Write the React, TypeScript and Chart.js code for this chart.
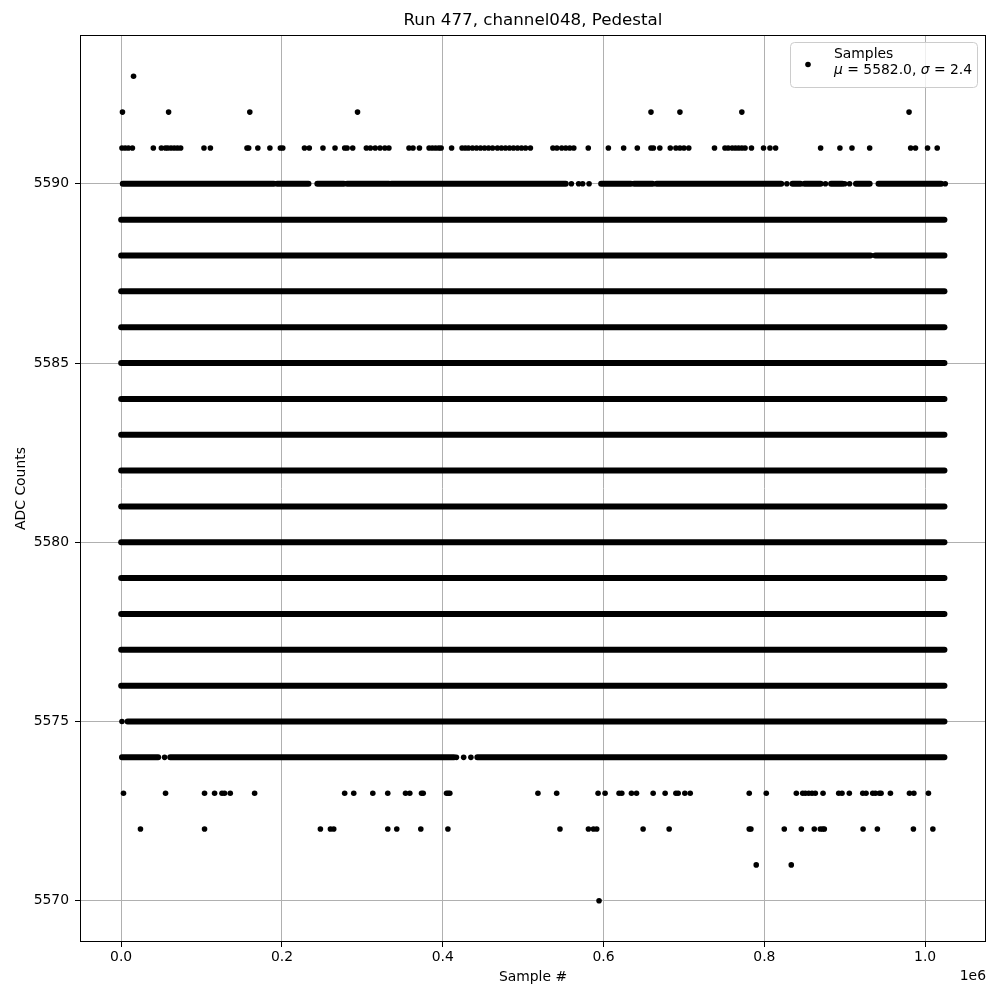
import { useEffect, useRef } from "react";
import { Chart, registerables } from "chart.js";

Chart.register(...registerables);

// ---------- text ----------
const chartTitle = "Run 477, channel048, Pedestal";
const xAxisLabel = "Sample #";
const yAxisLabel = "ADC Counts";
const xOffsetLabel = "1e6";
const legendName = "Samples";
const meanValue = "5582.0";
const sigmaValue = "2.4";

// ---------- axes ----------
const xTickValues = [0, 200000, 400000, 600000, 800000, 1000000];
const yTickValues = [5570, 5575, 5580, 5585, 5590];
const xRange = [-51200, 1075700];
const yRange = [5568.85, 5594.15];

// ---------- data ----------
// ADC levels whose samples fill the whole run
const fullRowLevels = [5576, 5577, 5578, 5579, 5580, 5581, 5582, 5583, 5584, 5585, 5586, 5587, 5589];
const fullRowSpan = [0, 1024000];

// partially filled levels: [first sample, last sample] of dense runs
const row5590Segments = [
  [2000, 190000], [194000, 233000], [244000, 277000], [281000, 333000], [336000, 553000],
  [597000, 634000], [638000, 661000], [666000, 821000], [835000, 845000], [850000, 870000],
  [883000, 897000], [914000, 931000], [942000, 1020000],
];
const row5588Segments = [[0, 932000], [938000, 1024000]];
const row5575Segments = [[8000, 1024000]];
const row5574Segments = [[1000, 46000], [61000, 414000], [443000, 1024000]];

// isolated samples per level (sample #)
const row5593Points = [15400];
const row5592Points = [1600, 59000, 160000, 294000, 659000, 695000, 772000, 980000];
const row5591Points = [
  1000, 5000, 9000, 14000, 40000, 50000, 55000, 58000, 62000, 66000, 70000, 74000, 103000, 111000,
  156500, 158600, 170000, 185000, 198000, 201000, 228000, 234000, 251000, 266000, 278000, 281000,
  288000, 305000, 310000, 316000, 322000, 328000, 333000, 358000, 363000, 371000, 383000, 387000,
  391000, 395000, 398000, 411000, 424000, 428000, 432000, 437000, 442000, 447000, 452000, 457000,
  462000, 468000, 473000, 478000, 483000, 488000, 493000, 498000, 503000, 509000, 537000, 542000,
  548000, 553000, 558000, 563000, 581000, 606000, 625000, 642000, 659000, 662000, 670000, 683000,
  690000, 695000, 700000, 706000, 738000, 751000, 755000, 760000, 764000, 768000, 772000, 776000,
  784000, 799000, 807000, 814000, 870000, 894000, 909000, 931000, 982000, 988000, 1003000, 1015000,
];
const row5590Points = [560000, 569000, 574000, 582000, 828000, 876000, 900000, 906000, 1025000];
const row5575Points = [1000];
const row5574Points = [54000, 417000, 426000, 435000];
const row5573Points = [
  2900, 55200, 103700, 116200, 125400, 128600, 135700, 166000, 278000, 289300, 313000, 331600,
  353700, 359000, 373600, 375700, 404700, 406800, 408800, 518400, 541700, 593200, 601900, 619300,
  622700, 634700, 641000, 661700, 676600, 690000, 692800, 701100, 707800, 781200, 802400, 839800,
  847700, 851000, 855200, 859300, 863400, 873000, 892500, 896600, 905700, 922400, 926500, 934800,
  938100, 943100, 945200, 956800, 980500, 986000, 1004100,
];
const row5572Points = [
  24000, 103700, 247800, 260300, 264400, 331600, 342800, 372700, 406400, 545800, 581200, 587400,
  591500, 649200, 681600, 781200, 783300, 824800, 846000, 862100, 869600, 872600, 874600, 922800,
  940600, 985400, 1009600,
];
const row5571Points = [789900, 833500];
const row5570Points = [594400];

const FONT = "'DejaVu Sans', 'Liberation Sans', sans-serif";

export default function App() {
  const canvasRef = useRef<HTMLCanvasElement | null>(null);

  useEffect(() => {
    const canvas = canvasRef.current;
    if (!canvas) return;

    const segmentRows: [number, number[][]][] = [
      ...fullRowLevels.map((lvl) => [lvl, [fullRowSpan]] as [number, number[][]]),
      [5590, row5590Segments],
      [5588, row5588Segments],
      [5575, row5575Segments],
      [5574, row5574Segments],
    ];
    const pointRows: [number, number[]][] = [
      [5593, row5593Points],
      [5592, row5592Points],
      [5591, row5591Points],
      [5590, row5590Points],
      [5575, row5575Points],
      [5574, row5574Points],
      [5573, row5573Points],
      [5572, row5572Points],
      [5571, row5571Points],
      [5570, row5570Points],
    ];

    const lineDatasets = segmentRows.map(([lvl, segs]) => {
      const data: { x: number; y: number | null }[] = [];
      segs.forEach(([a, b], i) => {
        if (i > 0) data.push({ x: a, y: null });
        data.push({ x: a, y: lvl });
        data.push({ x: b, y: lvl });
      });
      return {
        type: "scatter" as const,
        data,
        showLine: true,
        spanGaps: false,
        borderColor: "#000",
        borderWidth: 6,
        borderCapStyle: "round" as const,
        pointRadius: 0,
        pointHoverRadius: 0,
      };
    });

    const pointData: { x: number; y: number }[] = [];
    pointRows.forEach(([lvl, xs]) => xs.forEach((x) => pointData.push({ x, y: lvl })));

    const decor = {
      id: "decor",
      afterDraw(chart: any) {
        const { ctx, chartArea: a } = chart;
        ctx.save();
        // frame
        ctx.strokeStyle = "#000";
        ctx.lineWidth = 1;
        ctx.strokeRect(a.left + 0.5, a.top + 0.5, a.right - a.left - 1, a.bottom - a.top - 1);

        // title
        ctx.fillStyle = "#000";
        ctx.font = `16.7px ${FONT}`;
        ctx.textAlign = "center";
        ctx.textBaseline = "middle";
        ctx.fillText(chartTitle, (a.left + a.right) / 2, 21);

        // offset text
        ctx.font = `13.9px ${FONT}`;
        ctx.textAlign = "right";
        ctx.fillText(xOffsetLabel, a.right, 976.5);

        // legend
        const bx = 790.5, by = 42.5, bw = 187, bh = 45, r = 4;
        ctx.beginPath();
        ctx.moveTo(bx + r, by);
        ctx.lineTo(bx + bw - r, by);
        ctx.quadraticCurveTo(bx + bw, by, bx + bw, by + r);
        ctx.lineTo(bx + bw, by + bh - r);
        ctx.quadraticCurveTo(bx + bw, by + bh, bx + bw - r, by + bh);
        ctx.lineTo(bx + r, by + bh);
        ctx.quadraticCurveTo(bx, by + bh, bx, by + bh - r);
        ctx.lineTo(bx, by + r);
        ctx.quadraticCurveTo(bx, by, bx + r, by);
        ctx.closePath();
        ctx.fillStyle = "rgba(255,255,255,0.8)";
        ctx.fill();
        ctx.strokeStyle = "#cccccc";
        ctx.stroke();

        ctx.fillStyle = "#000";
        ctx.beginPath();
        ctx.arc(808, 64.5, 2.8, 0, Math.PI * 2);
        ctx.fill();

        ctx.textAlign = "left";
        ctx.textBaseline = "middle";
        ctx.font = `13.9px ${FONT}`;
        ctx.fillText(legendName, 834, 54);
        const parts: [string, boolean][] = [
          ["\u03bc", true],
          [` = ${meanValue}, `, false],
          ["\u03c3", true],
          [` = ${sigmaValue}`, false],
        ];
        let tx = 834;
        parts.forEach(([t, it]) => {
          ctx.font = `${it ? "italic " : ""}13.9px ${FONT}`;
          ctx.fillText(t, tx, 70.5);
          tx += ctx.measureText(t).width;
        });
        ctx.restore();
      },
    };

    const chart = new Chart(canvas, {
      type: "scatter",
      data: {
        datasets: [
          ...lineDatasets,
          {
            type: "scatter" as const,
            data: pointData,
            pointRadius: 2.8,
            pointHoverRadius: 2.8,
            backgroundColor: "#000",
            borderWidth: 0,
          },
        ] as any,
      },
      options: {
        animation: false,
        responsive: false,
        maintainAspectRatio: false,
        events: [],
        layout: { padding: { top: 35, right: 14, bottom: 0, left: 0 } },
        plugins: {
          legend: { display: false },
          tooltip: { enabled: false },
          title: { display: false },
        },
        scales: {
          x: {
            type: "linear",
            min: xRange[0],
            max: xRange[1],
            afterFit: (s: any) => {
              s.height = 58;
            },
            afterBuildTicks: (s: any) => {
              s.ticks = xTickValues.map((v) => ({ value: v }));
            },
            border: { display: false },
            grid: {
              color: "#b0b0b0",
              lineWidth: 1,
              drawTicks: true,
              tickLength: 5,
              tickColor: "#000",
              tickWidth: 1,
            },
            ticks: {
              autoSkip: false,
              maxRotation: 0,
              color: "#000",
              padding: 2,
              font: { family: FONT, size: 13.9 },
              callback: (v: any) => (Number(v) / 1e6).toFixed(1),
            },
            title: {
              display: true,
              text: xAxisLabel,
              color: "#000",
              font: { family: FONT, size: 13.9 },
              padding: { top: 0, bottom: 14.7 },
            },
          },
          y: {
            type: "linear",
            min: yRange[0],
            max: yRange[1],
            afterFit: (s: any) => {
              s.width = 80;
            },
            afterBuildTicks: (s: any) => {
              s.ticks = yTickValues.map((v) => ({ value: v }));
            },
            border: { display: false },
            grid: {
              color: "#b0b0b0",
              lineWidth: 1,
              drawTicks: true,
              tickLength: 5,
              tickColor: "#000",
              tickWidth: 1,
            },
            ticks: {
              autoSkip: false,
              color: "#000",
              padding: 6,
              font: { family: FONT, size: 13.9 },
              callback: (v: any) => String(v),
            },
            title: {
              display: true,
              text: yAxisLabel,
              color: "#000",
              font: { family: FONT, size: 13.9 },
              padding: { top: 12.7, bottom: 0 },
            },
          },
        },
      },
      plugins: [decor],
    });

    return () => chart.destroy();
  }, []);

  return (
    <div style={{ position: "fixed", left: 0, top: 0, width: 1000, height: 1000, background: "#fff" }}>
      <canvas ref={canvasRef} width={1000} height={1000} style={{ display: "block" }} />
    </div>
  );
}
